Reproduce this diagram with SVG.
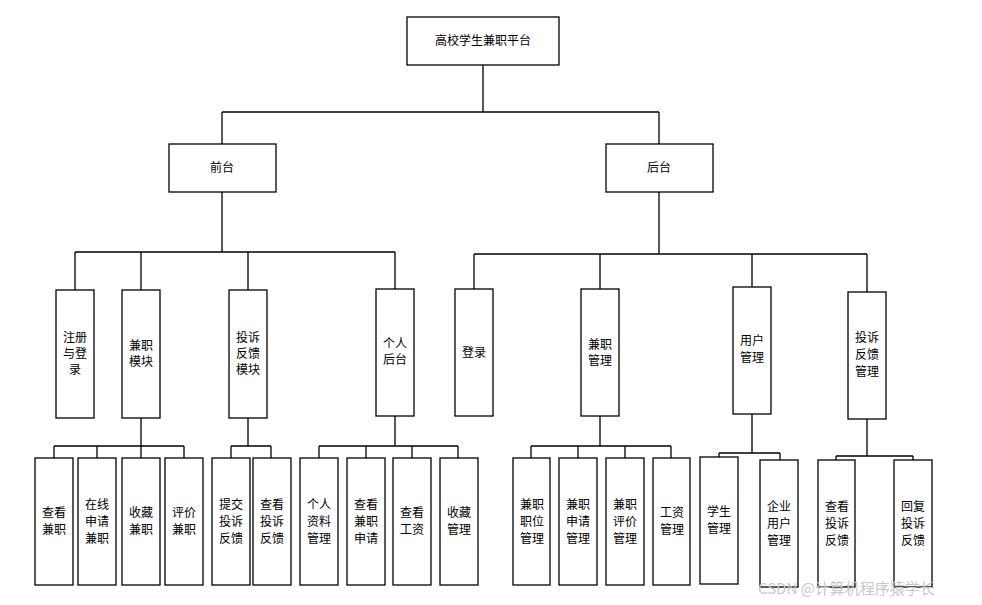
<svg xmlns="http://www.w3.org/2000/svg" width="982" height="605" viewBox="0 0 982 605">
<style>
rect{fill:#fff;stroke:#000;stroke-width:1.3}
text{font-family:"Noto Sans CJK SC",sans-serif;font-size:12px;text-anchor:middle;fill:#000}
.c path{fill:none;stroke:#000;stroke-width:1.3}
.wm{font-size:15px;fill:#c8c8c8;text-anchor:start}
</style>
<rect x="0" y="0" width="982" height="605" style="stroke:none"/>
<g class="c">
<path d="M483 65V112M222 112H659M222 112V144M659 112V144"/>
<path d="M222 192V252M75 252H395M75 252V290M141 252V290M248 252V290M395 252V289"/>
<path d="M659 192V254M474 254H867M474 254V289M600 254V289M752 254V287M867 254V292"/>
<path d="M141 418V446M54 446H184M54 446V458M97 446V458M141 446V458M184 446V458"/>
<path d="M248 418V446M231 446H271M231 446V458M271 446V458"/>
<path d="M395 416V446M319 446H458M319 446V458M366 446V458M412 446V458M458 446V458"/>
<path d="M600 416V446M531 446H671M531 446V458M578 446V458M625 446V458M671 446V458"/>
<path d="M752 414V453M719 453H780M719 453V457M780 453V460"/>
<path d="M867 419V456M836 456H913M836 456V460M913 456V460"/>
</g>
<g id="root"><rect x="407" y="17" width="152" height="48"/><text x="483" y="45">高校学生兼职平台</text></g>
<g id="front"><rect x="169" y="144" width="107" height="48"/><text x="222" y="172">前台</text></g>
<g id="back"><rect x="606" y="144" width="107" height="48"/><text x="659" y="172">后台</text></g>
<g id="f1"><rect x="56" y="290" width="38" height="128"/><text x="75" y="342">注册</text><text x="75" y="358">与登</text><text x="75" y="374">录</text></g>
<g id="f2"><rect x="122" y="290" width="38" height="128"/><text x="141" y="350">兼职</text><text x="141" y="366">模块</text></g>
<g id="f3"><rect x="229" y="290" width="38" height="128"/><text x="248" y="342">投诉</text><text x="248" y="358">反馈</text><text x="248" y="374">模块</text></g>
<g id="f4"><rect x="376" y="289" width="38" height="127"/><text x="395" y="348">个人</text><text x="395" y="364">后台</text></g>
<g id="b1"><rect x="455" y="289" width="38" height="127"/><text x="474" y="357">登录</text></g>
<g id="b2"><rect x="581" y="289" width="38" height="127"/><text x="600" y="349">兼职</text><text x="600" y="365">管理</text></g>
<g id="b3"><rect x="733" y="287" width="38" height="127"/><text x="752" y="345">用户</text><text x="752" y="362">管理</text></g>
<g id="b4"><rect x="848" y="292" width="38" height="127"/><text x="867" y="342">投诉</text><text x="867" y="359">反馈</text><text x="867" y="376">管理</text></g>
<g id="l1"><rect x="35" y="458" width="38" height="127"/><text x="54" y="517">查看</text><text x="54" y="534">兼职</text></g>
<g id="l2"><rect x="78" y="458" width="38" height="127"/><text x="97" y="509">在线</text><text x="97" y="526">申请</text><text x="97" y="543">兼职</text></g>
<g id="l3"><rect x="122" y="458" width="38" height="127"/><text x="141" y="517">收藏</text><text x="141" y="534">兼职</text></g>
<g id="l4"><rect x="165" y="458" width="38" height="127"/><text x="184" y="517">评价</text><text x="184" y="534">兼职</text></g>
<g id="l5"><rect x="212" y="458" width="38" height="127"/><text x="231" y="509">提交</text><text x="231" y="526">投诉</text><text x="231" y="543">反馈</text></g>
<g id="l6"><rect x="253" y="458" width="38" height="127"/><text x="272" y="509">查看</text><text x="272" y="526">投诉</text><text x="272" y="543">反馈</text></g>
<g id="l7"><rect x="300" y="458" width="38" height="127"/><text x="319" y="509">个人</text><text x="319" y="526">资料</text><text x="319" y="543">管理</text></g>
<g id="l8"><rect x="347" y="458" width="38" height="127"/><text x="366" y="509">查看</text><text x="366" y="526">兼职</text><text x="366" y="543">申请</text></g>
<g id="l9"><rect x="393" y="458" width="38" height="127"/><text x="412" y="517">查看</text><text x="412" y="534">工资</text></g>
<g id="l10"><rect x="440" y="458" width="38" height="127"/><text x="459" y="517">收藏</text><text x="459" y="534">管理</text></g>
<g id="r1"><rect x="513" y="458" width="37" height="127"/><text x="532" y="509">兼职</text><text x="532" y="526">职位</text><text x="532" y="543">管理</text></g>
<g id="r2"><rect x="559" y="458" width="38" height="127"/><text x="578" y="509">兼职</text><text x="578" y="526">申请</text><text x="578" y="543">管理</text></g>
<g id="r3"><rect x="606" y="458" width="38" height="127"/><text x="625" y="509">兼职</text><text x="625" y="526">评价</text><text x="625" y="543">管理</text></g>
<g id="r4"><rect x="653" y="458" width="37" height="127"/><text x="672" y="517">工资</text><text x="672" y="534">管理</text></g>
<g id="r5"><rect x="700" y="457" width="38" height="127"/><text x="719" y="516">学生</text><text x="719" y="533">管理</text></g>
<g id="r6"><rect x="760" y="460" width="38" height="127"/><text x="779" y="511">企业</text><text x="779" y="528">用户</text><text x="779" y="545">管理</text></g>
<g id="r7"><rect x="818" y="460" width="37" height="127"/><text x="837" y="511">查看</text><text x="837" y="528">投诉</text><text x="837" y="545">反馈</text></g>
<g id="r8"><rect x="894" y="460" width="38" height="127"/><text x="913" y="511">回复</text><text x="913" y="528">投诉</text><text x="913" y="545">反馈</text></g>
<text class="wm" x="758" y="594">CSDN @计算机程序猿学长</text>
</svg>
